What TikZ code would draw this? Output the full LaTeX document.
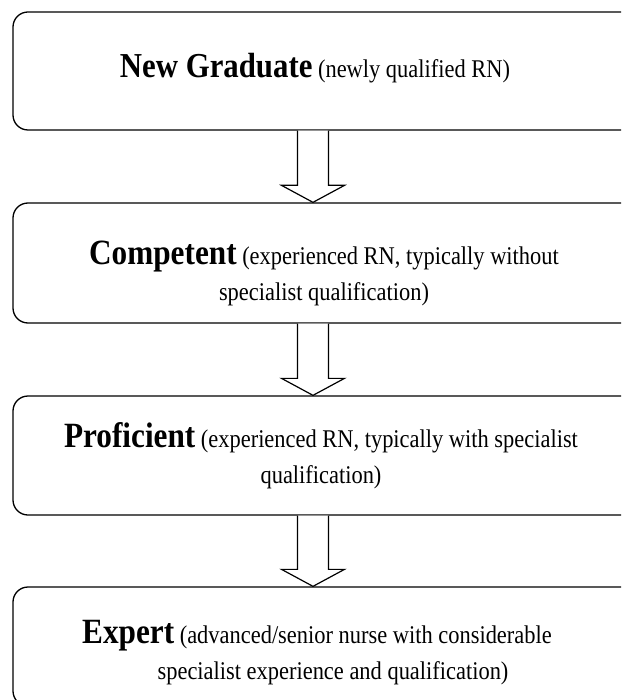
\documentclass[tikz,border=0pt]{standalone}
\usepackage{fontspec}
\setmainfont[FakeStretch=0.88]{Liberation Serif}
\usetikzlibrary{calc}
\begin{document}
\begin{tikzpicture}[x=1pt,y=-1pt,
  stage/.style={draw, line width=1.3pt, rounded corners=15pt, minimum width=627pt, inner sep=0pt},
  caption/.style={align=center, inner sep=0pt, font=\fontsize{25.5}{36}\selectfont},
  flow/.style={draw, line width=1.2pt, line join=miter, fill=white}]
\useasboundingbox (0,0) rectangle (621,700);
\clip (0,0) rectangle (621,700);
\node[stage, minimum height=118pt] (b1) at (326.5,71) {};
\node[stage, minimum height=120pt] (b2) at (326.5,263) {};
\node[stage, minimum height=119pt] (b3) at (326.5,455.5) {};
\node[stage, minimum height=119pt] (b4) at (326.5,646.5) {};
\node[caption] (t1) at (315,68) {{\fontsize{35}{36}\selectfont\bfseries New Graduate} (newly qualified RN)};
\node[caption] (t2) at (324,273) {{\fontsize{35.5}{36}\selectfont\bfseries Competent} (experienced RN, typically without\\specialist qualification)};
\node[caption] (t3) at (321,456) {{\fontsize{35.5}{36}\selectfont\bfseries Proficient} (experienced RN, typically with specialist\\qualification)};
\node[caption, anchor=base] (t4a) at (317,643) {{\fontsize{35.5}{36}\selectfont\bfseries Expert} (advanced/senior nurse with considerable};
\node[caption, anchor=base] (t4b) at (333,679) {specialist experience and qualification)};
\foreach \a/\b in {b1/b2,b2/b3,b3/b4}{
  \draw[flow] ($(\a.south)+(-29,0)$) -- ($(\b.north)+(-29,-17)$) -- ($(\b.north)+(-45,-17)$)
    -- ($(\b.north)+(-13.5,0)$) -- ($(\b.north)+(18,-17)$) -- ($(\b.north)+(2,-17)$) -- ($(\a.south)+(2,0)$);
}
\end{tikzpicture}
\end{document}
